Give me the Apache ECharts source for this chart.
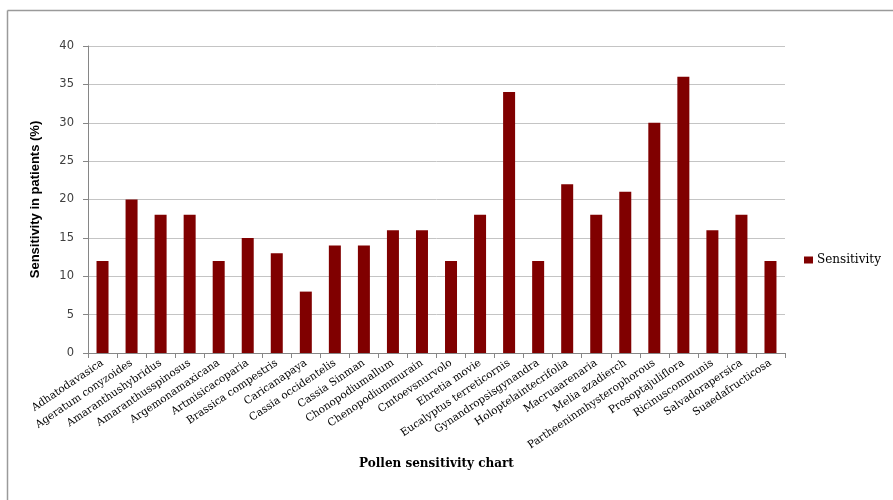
<!DOCTYPE html>
<html>
<head>
<meta charset="utf-8">
<script src="https://cdn.jsdelivr.net/npm/echarts@6/dist/echarts.min.js"></script>
<style>html,body{margin:0;padding:0;background:#fff;}#c{width:893px;height:500px;}</style>
</head>
<body>
<div id="c"></div>
<script>
const categories = ["Adhatodavasica","Ageratum conyzoides","Amaranthushybridus","Amaranthusspinosus","Argemonamaxicana","Artmisicacoparia","Brassica compestris","Caricanapaya","Cassia occidentelis","Cassia Sinman","Chonopodiumallum","Chenopodiummurain","Cmtoevsnurvolo","Ehretia movie","Eucalyptus terreticornis","Gynandropsisgynandra","Holoptelaintecrifolia","Macruaarenaria","Melia azadierch","Partheeninmhysterophorous","Prosoptajuliflora","Ricinuscommunis","Salvadorapersica","Suaedafructicosa"];
const sensitivity = [12,20,18,18,12,15,13,8,14,14,16,16,12,18,34,12,22,18,21,30,36,16,18,12];
const seriesName = "Sensitivity";
const xTitle = "Pollen sensitivity chart";
const yTitle = "Sensitivity in patients (%)";

const chart = echarts.init(document.getElementById('c'));
chart.setOption({
  animation: false,
  graphic: [
    {type:'line', shape:{x1:7.5,y1:10.5,x2:893,y2:10.5}, style:{stroke:'#9a9a9a', lineWidth:1.5}},
    {type:'line', shape:{x1:7.5,y1:10.5,x2:7.5,y2:500}, style:{stroke:'#9a9a9a', lineWidth:1.5}}
  ],
  legend: {
    data: [seriesName],
    left: 799, top: 249,
    itemWidth: 9, itemHeight: 7, itemGap: 4,
    icon: 'rect',
    textStyle: {fontFamily:'DejaVu Serif', fontSize: 12, color:'#000', padding:[0,0,0,-1]}
  },
  grid: {left: 88, right: 108, top: 46, bottom: 147, containLabel: false},
  xAxis: {
    type: 'category',
    data: categories,
    name: xTitle,
    nameLocation: 'middle',
    nameGap: 92,
    nameTextStyle: {fontFamily:'DejaVu Serif', fontWeight:'bold', fontSize: 12, color:'#000'},
    axisLine: {lineStyle:{color:'#868686'}},
    axisTick: {show:true, length:5, lineStyle:{color:'#868686'}},
    axisLabel: {rotate: 34, interval: 0, fontFamily:'DejaVu Serif', fontSize: 10.5, color:'#000', margin: 9}
  },
  yAxis: {
    type: 'value',
    min: 0, max: 40, interval: 5,
    name: yTitle,
    nameLocation: 'middle',
    nameGap: 46,
    nameTextStyle: {fontFamily:'Liberation Sans', fontWeight:'bold', fontSize: 13, color:'#000'},
    axisLine: {show:true, lineStyle:{color:'#868686'}},
    axisTick: {show:true, length:5, lineStyle:{color:'#868686'}},
    axisLabel: {fontFamily:'DejaVu Sans', fontSize: 11.5, color:'#404040', margin: 14},
    splitLine: {lineStyle:{color:'#c4c4c4'}}
  },
  series: [{
    name: seriesName,
    type: 'bar',
    data: sensitivity,
    barWidth: 12,
    itemStyle: {color:'#800000'}
  }]
});
</script>
</body>
</html>
